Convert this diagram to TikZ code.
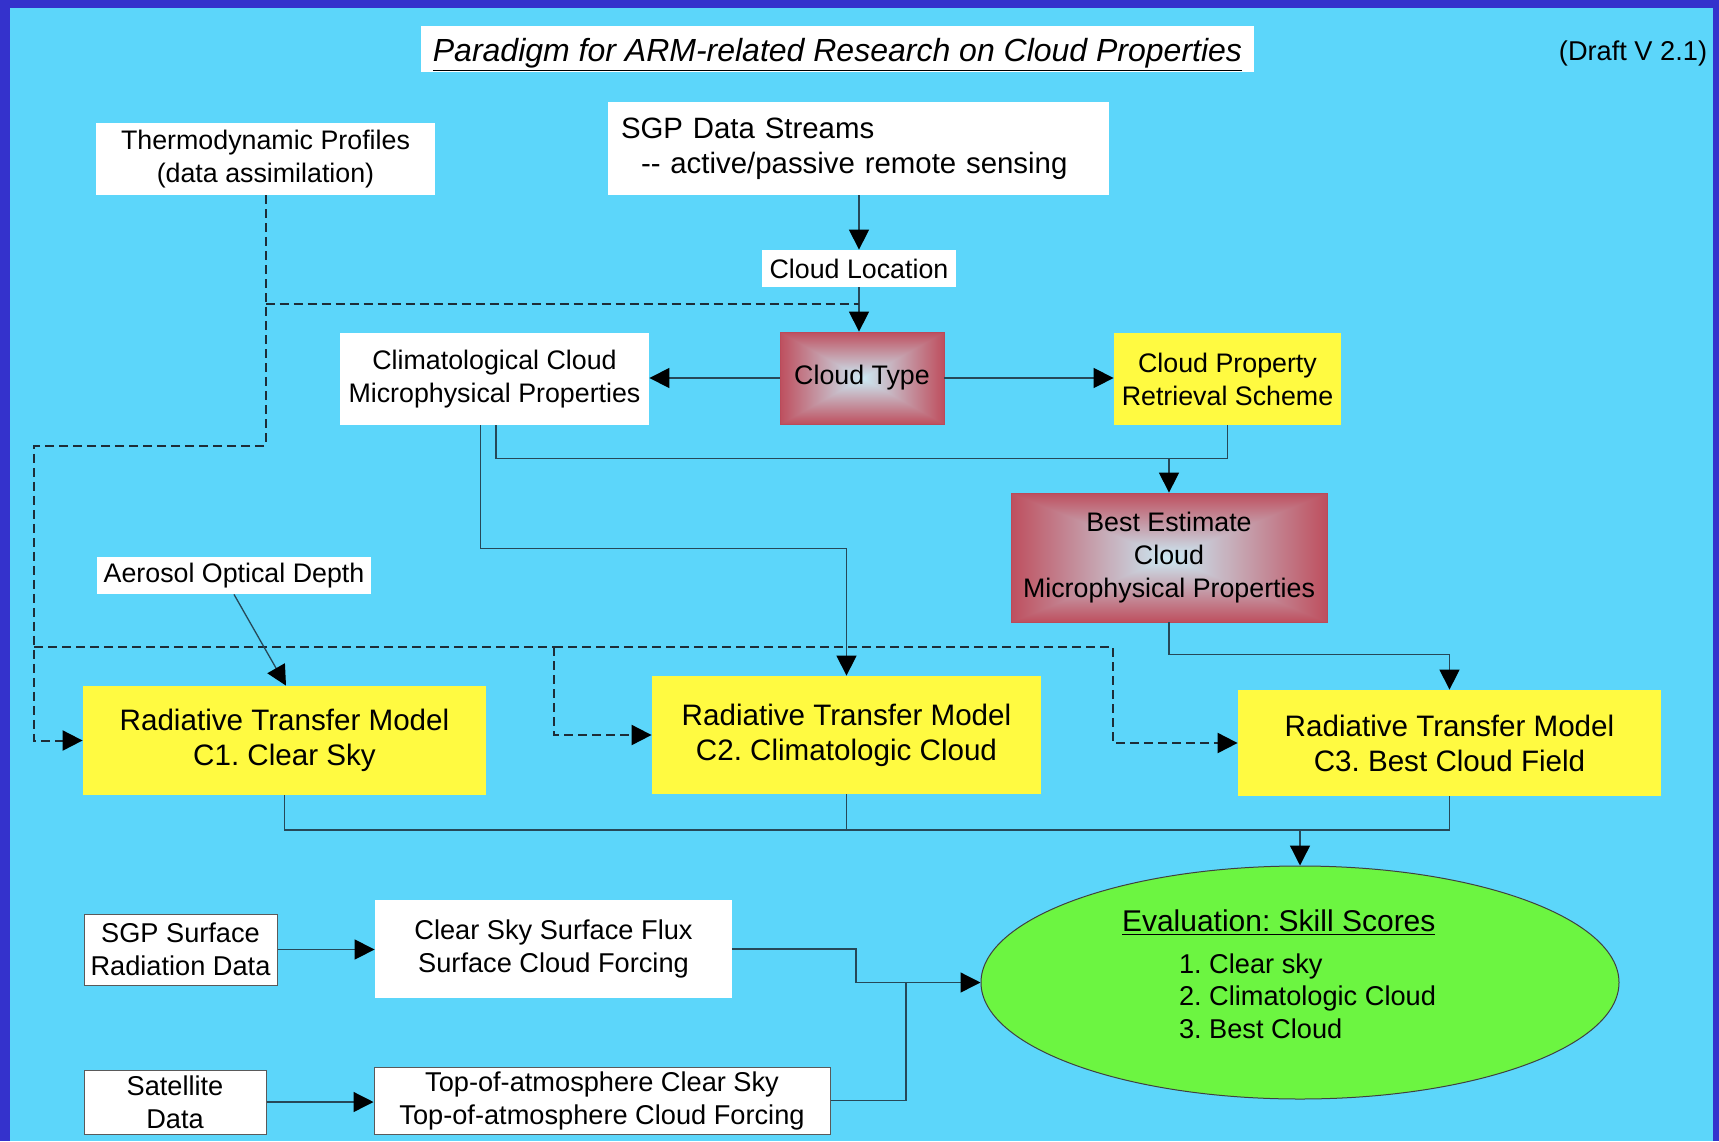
\documentclass[tikz,border=0pt]{standalone}
\usepackage{fontspec}
\setmainfont{Liberation Sans}
\usetikzlibrary{arrows.meta,calc,shapes.geometric}
\newlength{\pxu}
\setlength{\pxu}{0.5pt}
\definecolor{bgcyan}{RGB}{92,214,250}
\definecolor{frameblue}{RGB}{52,50,204}
\definecolor{boxyellow}{RGB}{255,250,65}
\definecolor{evgreen}{RGB}{108,245,65}
\definecolor{linec}{RGB}{38,72,88}
\definecolor{dashc}{RGB}{30,45,55}
\definecolor{redge}{RGB}{185,75,90}
\definecolor{boxedge}{RGB}{90,90,90}
\pgfdeclarefunctionalshading{redglow}{\pgfpointorigin}{\pgfpoint{100bp}{100bp}}{}{%
  50 sub abs 25 div exch 50 sub abs 25 div
  2 copy lt {exch} if pop
  dup 1 gt {pop 1} if
  dup -0.055 mul 0.80 add exch
  dup -0.61 mul 0.92 add exch
  -0.59 mul 0.96 add
}
\tikzset{
  wbox/.style={rectangle, fill=white, inner sep=0pt, align=center,
    font=\fontsize{13.4}{16.5}\selectfont},
  ybox/.style={rectangle, fill=boxyellow, inner sep=0pt, align=center,
    font=\fontsize{14.8}{17.5}\selectfont},
  rbox/.style={rectangle, shade, shading=redglow, draw=redge, line width=0.4pt,
    inner sep=0pt, align=center, font=\fontsize{13.4}{16.5}\selectfont},
  outl/.style={draw=boxedge, line width=0.5pt},
  conn/.style={draw=linec, line width=0.65pt},
  dconn/.style={draw=dashc, line width=1pt, dash pattern=on 4.5pt off 2.5pt},
  arr/.style={-{Triangle[length=10pt,width=10pt,color=black]}},
}
\frenchspacing
\begin{document}
\frenchspacing
\begin{tikzpicture}[x=0.5pt,y=-0.5pt]
\useasboundingbox (0,0) rectangle (1719,1141);
\fill[frameblue] (0,0) rectangle (1719,1141);
\fill[bgcyan] (10,8) rectangle (1713,1141);

% title
\node[wbox, minimum width=833\pxu, minimum height=46\pxu, text height=12.3pt, text depth=0pt,
  font=\fontsize{16}{19}\selectfont\itshape] (title) at (837.5,49)
  {\underline{Paradigm for ARM-related Research on Cloud Properties}};
\node[inner sep=0pt, font=\fontsize{13.6}{16}\selectfont] (draft) at (1633,53) {(Draft V 2.1)};

% top nodes
\node[wbox, minimum width=339\pxu, minimum height=72\pxu] (thermo) at (265.5,159)
  {Thermodynamic Profiles\\(data assimilation)};
\node[wbox, minimum height=93\pxu, text width=475\pxu, inner xsep=13\pxu, align=left,
  font=\fontsize{14.7}{17.5}\selectfont] (sgp) at (858.5,148.5)
  {SGP Data Streams\\\hspace*{10pt}-{}- active/passive remote sensing};
\node[wbox, minimum width=194\pxu, minimum height=37\pxu] (cloudloc) at (859,268.5) {Cloud Location};
\node[wbox, minimum width=309\pxu, minimum height=92\pxu] (clim) at (494.5,379)
  {Climatological Cloud\\Microphysical Properties};
\node[rbox, minimum width=164\pxu, minimum height=92\pxu] (ctype) at (862,378) {Cloud Type};
\node[ybox, minimum width=227\pxu, minimum height=92\pxu,
  font=\fontsize{13.4}{16.5}\selectfont] (cprop) at (1227.5,379)
  {Cloud Property\\Retrieval Scheme};
\node[rbox, minimum width=316\pxu, minimum height=129\pxu] (best) at (1169,557.5)
  {Best Estimate\\Cloud\\Microphysical Properties};
\node[wbox, minimum width=274\pxu, minimum height=37\pxu] (aerosol) at (234,575.5) {Aerosol Optical Depth};

% RTM boxes
\node[ybox, minimum width=403\pxu, minimum height=109\pxu] (c1) at (284.5,740.5)
  {Radiative Transfer Model\\C1. Clear Sky};
\node[ybox, minimum width=389\pxu, minimum height=118\pxu] (c2) at (846.5,735)
  {Radiative Transfer Model\\C2. Climatologic Cloud};
\node[ybox, minimum width=423\pxu, minimum height=106\pxu] (c3) at (1449.5,743)
  {Radiative Transfer Model\\C3. Best Cloud Field};

% evaluation
\node[ellipse, fill=evgreen, draw=black!75, line width=0.5pt, inner sep=0pt,
  minimum width=638\pxu, minimum height=233\pxu] (eval) at (1300,982.5) {};
\node[inner sep=0pt, font=\fontsize{13.6}{16.3}\selectfont] (evaltext) at (1279,978.5)
  {\begin{tabular}{@{}l@{}}
   {\fontsize{15}{18}\selectfont\underline{Evaluation: Skill Scores}}\\[4.5pt]
   \hspace*{28.5pt}1. Clear sky\\
   \hspace*{28.5pt}2. Climatologic Cloud\\
   \hspace*{28.5pt}3. Best Cloud
   \end{tabular}};

% bottom nodes
\node[wbox, outl, minimum width=193\pxu, minimum height=71\pxu,
  font=\fontsize{13.6}{16.5}\selectfont] (sgpsurf) at (180.5,949.5)
  {SGP Surface\\Radiation Data};
\node[wbox, minimum width=357\pxu, minimum height=98\pxu,
  font=\fontsize{13.6}{16.5}\selectfont] (csflux) at (553.5,949)
  {Clear Sky Surface Flux\\Surface Cloud Forcing};
\node[wbox, outl, minimum width=182\pxu, minimum height=64\pxu,
  font=\fontsize{13.6}{16.5}\selectfont] (sat) at (175,1102)
  {Satellite\\Data};
\node[wbox, outl, minimum width=456\pxu, minimum height=67\pxu,
  font=\fontsize{13.6}{16.5}\selectfont] (toa) at (602,1100.5)
  {Top-of-atmosphere Clear Sky\\Top-of-atmosphere Cloud Forcing};

% helper coordinates
\coordinate (tj) at (265.5,304);
\coordinate (bus) at (0,830);
\coordinate (mj) at (856,982.5);

% top connectors
\draw[conn, arr] (cloudloc.north |- sgp.south) -- (cloudloc.north);
\draw[conn, arr] (cloudloc.south) -- (cloudloc.south |- ctype.north);
\draw[conn, arr] (ctype.west) -- (ctype.west -| clim.east);
\draw[conn, arr] (ctype.east) -- (ctype.east -| cprop.west);

% dashed thermodynamic lines
\draw[dconn] (tj) -- (tj -| cloudloc.south);
\draw[dconn, arr] (thermo.south) |- (34,446) |- (c1.west);
\draw[dconn] (34,647) -- (554,647);
\draw[dconn, arr] (554,647) |- (c2.west);
\draw[dconn, arr] (554,647) -- (1113,647) |- (c3.west);

% microphysics lines
\draw[conn] ($(clim.south)+(1.5,0)$) |- ($(cprop.south)+(0,33)$) -- (cprop.south);
\draw[conn, arr] (best.north |- 0,458) -- (best.north);
\draw[conn, arr] ($(clim.south)+(-14,0)$) |- ($(c2.north)+(0,-127)$) -- (c2.north);
\draw[conn, arr] (best.south) |- ($(c3.north)+(0,-35)$) -- (c3.north);
\draw[conn, arr] (aerosol.south) -- ($(c1.north)+(1.5,0)$);

% models to evaluation
\draw[conn] (c1.south) |- (c3.south |- bus) -- (c3.south);
\draw[conn] (c2.south) -- (c2.south |- bus);
\draw[conn, arr] (eval.north |- bus) -- (eval.north);

% bottom connectors
\draw[conn, arr] (sgpsurf.east) -- (sgpsurf.east -| csflux.west);
\draw[conn, arr] (sat.east) -- (sat.east -| toa.west);
\draw[conn, arr] (csflux.east) -| (mj) -- (eval.west);
\draw[conn] (toa.east) -| (906,982.5);
\end{tikzpicture}
\end{document}
